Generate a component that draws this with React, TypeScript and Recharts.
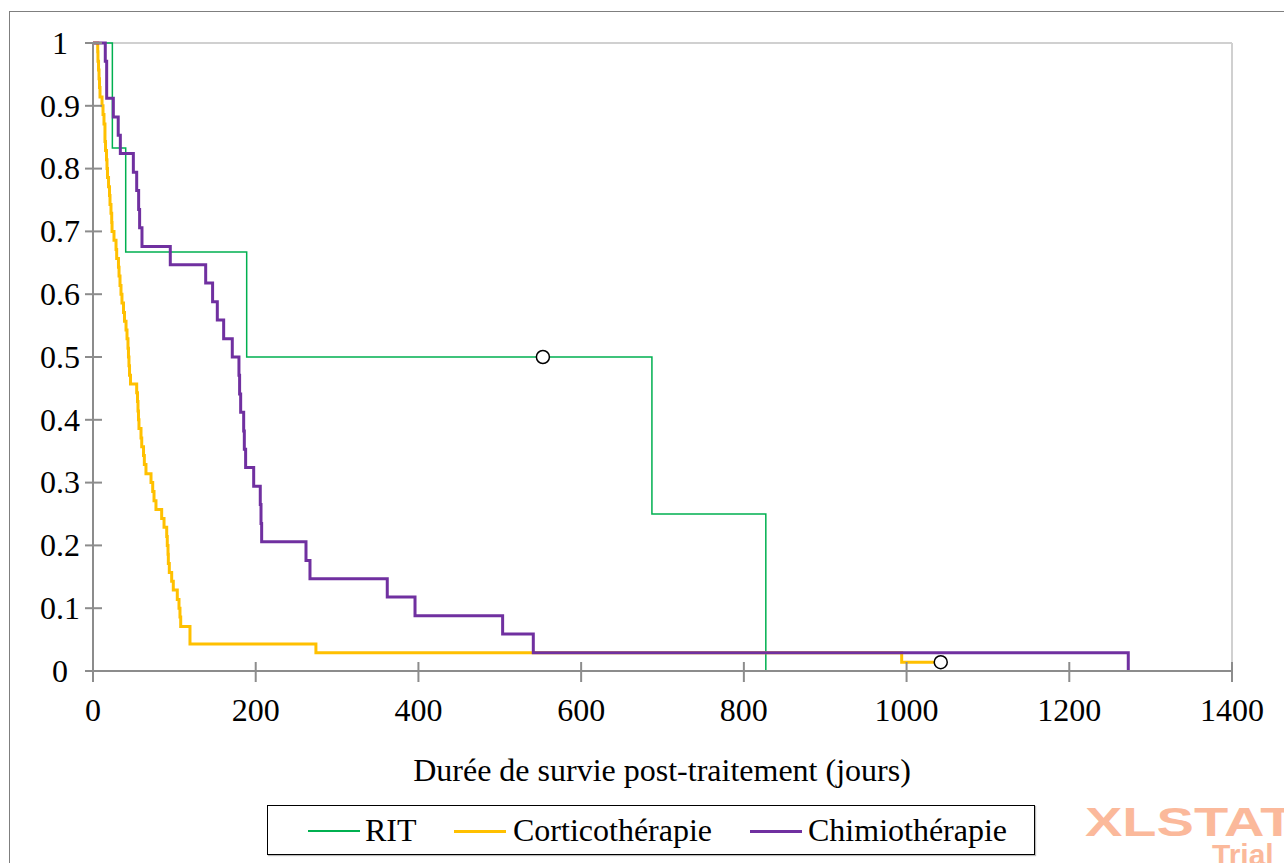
import React from 'react';
import { ComposedChart, Line, Scatter, XAxis, YAxis, ReferenceLine } from 'recharts';

// Kaplan-Meier step points: [time (days), survival]
const ritSteps: [number, number][] = [
  [0, 1], [23.8, 0.833], [40.2, 0.667], [188.9, 0.5], [687, 0.25], [827, 0],
];

const corticoSteps: [number, number][] = [
  [0, 1], [5.8, 0.986], [6.1, 0.971], [6.8, 0.957], [7.4, 0.943], [8.0, 0.929], [8.6, 0.914],
  [11.1, 0.9], [12.3, 0.886], [13.5, 0.871], [14.7, 0.843], [15.4, 0.829], [16.6, 0.814],
  [17.2, 0.8], [17.8, 0.786], [19.1, 0.771], [20.3, 0.757], [20.9, 0.743], [22.1, 0.729],
  [23.0, 0.714], [23.4, 0.7], [25.8, 0.686], [28.3, 0.671], [29.1, 0.657], [31.3, 0.643],
  [32.0, 0.629], [33.2, 0.614], [34.4, 0.6], [35.6, 0.586], [37.5, 0.571], [38.7, 0.557],
  [40.6, 0.543], [41.8, 0.529], [43.0, 0.514], [43.6, 0.5], [44.2, 0.486], [44.9, 0.471],
  [46.1, 0.457], [53.7, 0.443], [54.7, 0.429], [55.3, 0.414], [55.9, 0.4], [56.5, 0.386],
  [59.0, 0.371], [59.9, 0.357], [62.1, 0.343], [63.1, 0.329], [65.1, 0.314], [71.3, 0.3],
  [73.4, 0.286], [75.0, 0.271], [77.4, 0.257], [84.4, 0.243], [87.3, 0.229], [90.6, 0.214],
  [91.3, 0.2], [92.2, 0.186], [92.6, 0.171], [93.8, 0.157], [96.7, 0.143], [98.7, 0.129],
  [103.6, 0.114], [105.7, 0.1], [106.9, 0.086], [107.8, 0.071], [119.2, 0.043], [274, 0.029],
  [994, 0.014], [1042, 0.014],
];

const chimioSteps: [number, number][] = [
  [0, 1], [15.1, 0.971], [16.8, 0.912], [25, 0.882], [31, 0.853], [33.6, 0.824], [49.6, 0.794],
  [53.7, 0.765], [56.1, 0.735], [57.3, 0.706], [60.2, 0.676], [95, 0.647], [138.5, 0.618],
  [147, 0.588], [152.8, 0.559], [160.6, 0.529], [171.2, 0.5], [179.4, 0.471], [180.2, 0.441],
  [181.5, 0.412], [185.2, 0.382], [186, 0.353], [187.6, 0.324], [197.5, 0.294], [205.6, 0.265],
  [206.5, 0.235], [207.3, 0.206], [261.8, 0.176], [266.7, 0.147], [361.7, 0.118], [395.8, 0.088],
  [503.5, 0.059], [541.2, 0.029], [1272.5, 0],
];

const censoredPoints: [number, number][] = [[553, 0.5], [1042, 0.014]];

const xTicks = [0, 200, 400, 600, 800, 1000, 1200, 1400];
const yTicks = [0, 0.1, 0.2, 0.3, 0.4, 0.5, 0.6, 0.7, 0.8, 0.9, 1];

const seriesNames = ['RIT', 'Corticothérapie', 'Chimiothérapie'];
const seriesColors = ['#00b050', '#ffc000', '#7030a0'];
const seriesWidths = [1.5, 3, 3];

const toRows = (pts: [number, number][]) => pts.map(([t, s]) => ({ t, s }));

const FONT = '"Liberation Serif", "Times New Roman", serif';
const AXIS = '#8c8c8c';
const TS = 8; // tick size
const TM = 0; // tick margin

const YTick = (props: any) => {
  const { x, y, payload } = props;
  const ax = x + TS + TM;
  return (
    <g>
      <line x1={ax - 8} x2={ax + 9} y1={y} y2={y} stroke={AXIS} strokeWidth={2} />
      <text x={ax - 33} y={y} dy="0.34em" textAnchor="middle" fontFamily={FONT} fontSize={32} fill="#000">
        {String(payload.value)}
      </text>
    </g>
  );
};

const XTick = (props: any) => {
  const { x, y, payload } = props;
  const ay = y - TS - TM;
  return (
    <g>
      <line x1={x} x2={x} y1={ay - 9} y2={ay + 11} stroke={AXIS} strokeWidth={2} />
      <text x={x} y={ay + 50} textAnchor="middle" fontFamily={FONT} fontSize={32} fill="#000">
        {String(payload.value)}
      </text>
    </g>
  );
};

const CensorDot = (props: any) => {
  const { cx, cy } = props;
  return <circle cx={cx} cy={cy} r={6.5} fill="#fff" stroke="#000" strokeWidth={1.5} />;
};

const legendLayout = [
  { lineLeft: 40, textLeft: 97 },
  { lineLeft: 186, textLeft: 245 },
  { lineLeft: 482, textLeft: 540 },
];

export default function App() {
  const allSeries = [ritSteps, corticoSteps, chimioSteps];
  return (
    <div style={{ position: 'fixed', left: 0, top: 0, width: 1284, height: 863, overflow: 'hidden', background: '#fff' }}>
      <div style={{ position: 'absolute', left: 9, top: 11, width: 1400, height: 1000, border: '1px solid #7f7f7f' }} />
      <div style={{ position: 'absolute', left: 0, top: 0 }}>
        <ComposedChart width={1284} height={863} margin={{ top: 43, right: 52, bottom: 152, left: 0 }}>
          <XAxis
            type="number"
            dataKey="t"
            domain={[0, 1400]}
            ticks={xTicks}
            allowDataOverflow
            height={40}
            axisLine={{ stroke: AXIS, strokeWidth: 2 }}
            tickLine={false}
            tickSize={TS}
            tickMargin={TM}
            tick={<XTick />}
            interval={0}
          />
          <YAxis
            type="number"
            dataKey="s"
            domain={[0, 1]}
            ticks={yTicks}
            width={93}
            axisLine={{ stroke: AXIS, strokeWidth: 2 }}
            tickLine={false}
            tickSize={TS}
            tickMargin={TM}
            tick={<YTick />}
            interval={0}
          />
          <ReferenceLine y={1} stroke="#d0d0d0" strokeWidth={2} />
          <ReferenceLine x={1400} stroke="#d0d0d0" strokeWidth={2} />
          {allSeries.map((pts, i) => (
            <Line
              key={seriesNames[i]}
              data={toRows(pts)}
              dataKey="s"
              name={seriesNames[i]}
              type="stepAfter"
              stroke={seriesColors[i]}
              strokeWidth={seriesWidths[i]}
              dot={false}
              activeDot={false}
              isAnimationActive={false}
            />
          ))}
          <Scatter data={toRows(censoredPoints)} dataKey="s" shape={<CensorDot />} isAnimationActive={false} />
        </ComposedChart>
      </div>
      <div
        style={{
          position: 'absolute', left: 412, width: 500, top: 750, textAlign: 'center',
          fontFamily: FONT, fontSize: 32, lineHeight: '40px', color: '#000', whiteSpace: 'nowrap',
        }}
      >
        Durée de survie post-traitement (jours)
      </div>
      <div
        style={{
          position: 'absolute', left: 267, top: 805, width: 766, height: 48,
          border: '1px solid #000', boxShadow: '1px 1px 1px #bbb',
        }}
      >
        {seriesNames.map((n, i) => (
          <React.Fragment key={n}>
            <div
              style={{
                position: 'absolute', left: legendLayout[i].lineLeft, top: 25 - seriesWidths[i] / 2,
                width: 52, height: seriesWidths[i], background: seriesColors[i],
              }}
            />
            <div
              style={{
                position: 'absolute', left: legendLayout[i].textLeft, top: 4, fontFamily: FONT,
                fontSize: 32, lineHeight: '40px', color: '#000', whiteSpace: 'nowrap',
              }}
            >
              {n}
            </div>
          </React.Fragment>
        ))}
      </div>
      <div
        style={{
          position: 'absolute', left: 1085, top: 802, fontFamily: '"Liberation Sans", Arial, sans-serif',
          fontWeight: 'bold', fontSize: 40, lineHeight: '40px', color: '#fbb99b', transform: 'scaleX(1.4)',
          transformOrigin: 'left top', whiteSpace: 'nowrap',
        }}
      >
        XLSTAT
      </div>
      <div
        style={{
          position: 'absolute', left: 1212, top: 840, fontFamily: '"Liberation Sans", Arial, sans-serif',
          fontWeight: 'bold', fontSize: 30, lineHeight: '30px', color: '#fbb99b',
          whiteSpace: 'nowrap',
        }}
      >
        Trial
      </div>
    </div>
  );
}
